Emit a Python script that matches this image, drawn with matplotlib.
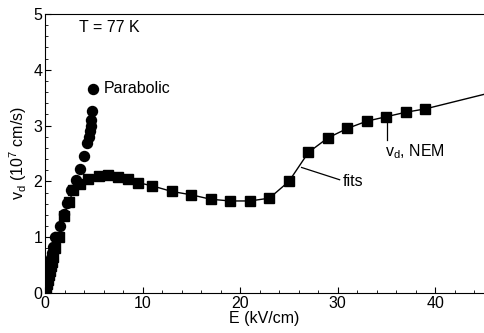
import matplotlib
matplotlib.use("Agg")
import matplotlib.pyplot as plt
from matplotlib.ticker import MultipleLocator

plt.rcParams['font.family'] = ['Liberation Sans', 'DejaVu Sans']

# Parabolic band (circles)
E_par = [0.05, 0.1, 0.15, 0.2, 0.25, 0.3, 0.35, 0.4, 0.45, 0.5, 0.6, 0.7, 0.8, 1.05,
         1.5, 1.9, 2.3, 2.7, 3.2, 3.55, 3.95, 4.35, 4.5, 4.6, 4.7, 4.75, 4.8, 4.9]
v_par = [0.05, 0.1, 0.15, 0.21, 0.27, 0.32, 0.37, 0.42, 0.47, 0.52, 0.62, 0.72, 0.82, 1.01,
         1.2, 1.41, 1.62, 1.84, 2.03, 2.23, 2.46, 2.68, 2.8, 2.9, 3.0, 3.1, 3.27, 3.65]

# NEM (squares)
E_nem = [0.1, 0.2, 0.3, 0.4, 0.5, 0.6, 0.7, 0.8, 1.0, 1.4, 1.9, 2.5, 2.9, 3.6, 4.4,
         5.5, 6.5, 7.5, 8.5, 9.5, 11, 13, 15, 17, 19, 21, 23, 25, 27, 29, 31, 33,
         35, 37, 39]
v_nem = [0.08, 0.16, 0.24, 0.32, 0.4, 0.48, 0.56, 0.64, 0.8, 1.01, 1.38, 1.64, 1.85, 1.95, 2.05,
         2.1, 2.11, 2.08, 2.04, 1.98, 1.92, 1.82, 1.76, 1.68, 1.65, 1.65, 1.70, 2.0, 2.52,
         2.78, 2.95, 3.08, 3.16, 3.24, 3.30]

# fit curve
E_fit = [0, 1.0, 1.4, 1.9, 2.5, 2.9, 3.6, 4.4, 5.5, 6.5, 7.5, 8.5, 9.5, 11, 13, 15, 17,
         19, 21, 23, 25, 27, 29, 31, 33, 35, 37, 39, 42, 45]
v_fit = [0, 0.8, 1.01, 1.38, 1.64, 1.85, 1.95, 2.05, 2.1, 2.11, 2.08, 2.04, 1.98, 1.92,
         1.82, 1.76, 1.68, 1.65, 1.65, 1.70, 2.0, 2.52, 2.78, 2.95, 3.08, 3.16, 3.24,
         3.30, 3.43, 3.56]

FS = 11.5

fig = plt.figure(figsize=(4.84, 3.33), dpi=100)
ax = fig.add_axes([0.093, 0.12, 0.907, 0.838])

ax.plot(E_fit, v_fit, color='black', lw=1.0, zorder=2)
ax.plot(E_nem, v_nem, ls='none', marker='s', ms=6.5, color='black', zorder=3)
ax.plot(E_par, v_par, ls='none', marker='o', ms=7.2, color='black', zorder=4)

ax.set_xlim(0, 45)
ax.set_ylim(0, 5)
ax.xaxis.set_major_locator(MultipleLocator(10))
ax.xaxis.set_minor_locator(MultipleLocator(2))
ax.yaxis.set_major_locator(MultipleLocator(1))
ax.yaxis.set_minor_locator(MultipleLocator(0.2))
ax.tick_params(which='both', direction='in', labelsize=FS, top=False, right=False)
ax.tick_params(which='major', length=4, pad=2)
ax.tick_params(which='minor', length=2)
ax.spines['right'].set_visible(False)

ax.set_xlabel('E (kV/cm)', fontsize=FS, labelpad=0)
ax.set_ylabel(r'v$_\mathregular{d}$ (10$^\mathregular{7}$ cm/s)', fontsize=FS, labelpad=3)

ax.text(3.5, 4.75, 'T = 77 K', fontsize=FS, va='center', ha='left')
ax.text(6.0, 3.66, 'Parabolic', fontsize=FS, va='center', ha='left')
ax.text(30.5, 2.0, 'fits', fontsize=FS, va='center', ha='left')
ax.text(34.9, 2.53, r'v$_\mathregular{d}$, NEM', fontsize=FS, va='center', ha='left')
ax.plot([30.2, 26.3], [2.03, 2.25], color='black', lw=0.9)
ax.plot([35.1, 35.1], [2.74, 3.12], color='black', lw=0.9)

fig.savefig('out.png', dpi=100)
